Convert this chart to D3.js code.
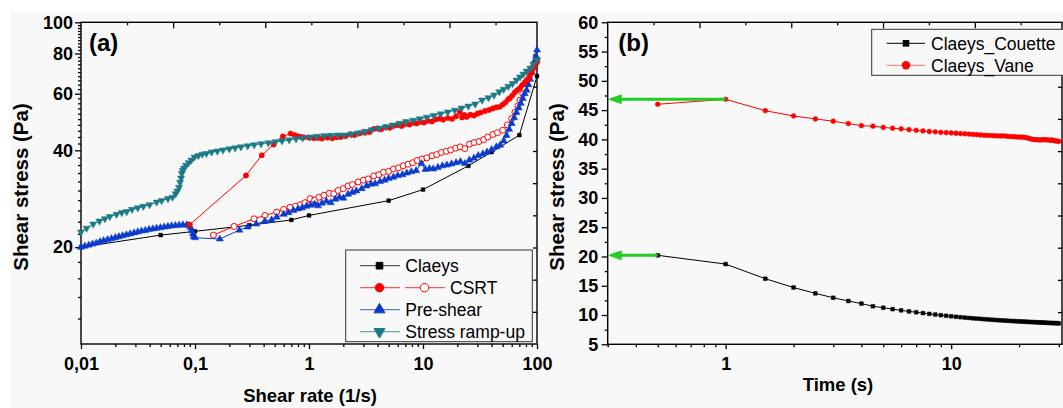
<!DOCTYPE html>
<html><head><meta charset="utf-8">
<script src="https://cdn.jsdelivr.net/npm/d3@7"></script>
<style>html,body{margin:0;padding:0;background:#fff;} svg{display:block;}</style>
</head><body><svg id="c" width="1063" height="408"></svg>
<script>
// ---------------- Panel (a) data ----------------
const claeysX = [0.01, 0.05, 0.1, 0.3, 0.7, 1, 5, 10, 25, 40, 70, 100];
const claeysY = [20, 21.8, 22.4, 23.4, 24.3, 25.1, 27.9, 30.2, 35.8, 39.5, 44.6, 68];

const csrtUpX = [0.09, 0.28, 0.385, 0.49, 0.59, 0.69, 0.75, 0.8, 0.85, 0.9, 1.0, 1.1, 1.2, 1.3, 1.45, 1.6, 1.75, 1.9, 2.1, 2.3, 2.5, 2.8, 3.1, 3.4, 3.7, 4.0, 4.3, 4.7, 5.1, 5.5, 6.0, 6.5, 7.0, 7.6, 8.2, 8.8, 9.4, 10.2, 11, 12, 13, 14, 15, 16.5, 18, 19.5, 21, 22, 23, 24.2, 26, 28, 30, 32, 35, 38, 41, 44, 47, 50, 53, 56, 58, 61, 64, 67, 71, 74, 78, 81, 84, 87, 90, 93, 96, 100];
const csrtUpY = [23.5, 33.4, 38.6, 41.7, 44.2, 45.1, 44.6, 44.2, 44.0, 43.9, 43.8, 43.6, 43.7, 43.5, 43.8, 43.6, 43.9, 44.0, 44.3, 44.9, 44.6, 45.2, 45.4, 45.6, 46.6, 46.8, 46.5, 47.2, 47.0, 47.6, 47.9, 47.6, 48.3, 48.1, 48.7, 48.5, 49.0, 48.8, 49.4, 49.2, 49.9, 50.2, 49.8, 50.4, 50.1, 51.0, 52.6, 50.6, 51.5, 50.8, 51.6, 51.3, 52.0, 52.4, 53.0, 53.4, 54.0, 54.4, 54.6, 55.5, 56.4, 57.6, 58.2, 59.3, 60.6, 61.5, 62.5, 63.8, 65.0, 65.9, 66.5, 68.5, 70.2, 72.0, 73.6, 75.0];

const csrtDownX = [0.145, 0.22, 0.33, 0.41, 0.52, 0.6, 0.68, 0.76, 0.84, 0.92, 1.02, 1.12, 1.22, 1.35, 1.5, 1.65, 1.8, 2.0, 2.2, 2.4, 2.7, 3.0, 3.3, 3.7, 4.1, 4.5, 5.0, 5.5, 6.1, 6.7, 7.4, 8.1, 8.9, 9.8, 10.8, 12, 13.2, 14.5, 16, 17.5, 19.3, 21.2, 23.3, 25.6, 28, 31, 34, 37, 41, 45, 50, 55, 60, 64, 68, 71, 75, 78, 81, 85, 88, 90, 95, 100];
const csrtDownY = [21.8, 23.2, 24.5, 25.1, 25.7, 26.2, 26.6, 26.8, 27.1, 27.5, 28.3, 28.0, 28.6, 29.0, 29.4, 29.3, 30.0, 30.4, 31.0, 31.3, 31.9, 32.3, 32.6, 33.3, 33.6, 34.2, 34.4, 35.0, 35.3, 35.8, 36.2, 36.6, 37.2, 37.6, 37.9, 38.5, 38.8, 39.4, 39.7, 40.1, 40.6, 41.0, 40.5, 41.8, 42.3, 42.6, 43.2, 44.0, 44.8, 45.4, 46.2, 48.0, 50.2, 52.5, 55.0, 57.3, 60.0, 62.0, 64.5, 67.0, 69.5, 72.0, 74.5, 76.5];

const preShearX = [0.01, 0.0108, 0.0117, 0.0126, 0.0136, 0.0147, 0.0158, 0.0171, 0.0185, 0.02, 0.0215, 0.0232, 0.025, 0.027, 0.0292, 0.0315, 0.034, 0.0367, 0.0396, 0.0427, 0.046, 0.0497, 0.0536, 0.0578, 0.0624, 0.0673, 0.0726, 0.0783, 0.0845, 0.088, 0.0915, 0.0935, 0.096, 0.0975, 0.1, 0.165, 0.245, 0.29, 0.345, 0.41, 0.47, 0.52, 0.6, 0.66, 0.73, 0.8, 0.87, 0.95, 1.03, 1.12, 1.2, 1.3, 1.42, 1.55, 1.7, 1.85, 2.0, 2.2, 2.4, 2.6, 2.9, 3.2, 3.5, 3.8, 4.2, 4.6, 5.0, 5.5, 6.0, 6.6, 7.2, 7.9, 8.7, 9.7, 10.5, 11.4, 12.3, 13.5, 14.8, 16.2, 17.8, 19.5, 21.3, 23.3, 25.5, 28, 30.5, 33.5, 36.5, 40, 44, 47.5, 51, 54, 57, 60, 63, 66, 69, 72, 75, 78, 81, 84, 87, 90, 93, 96, 98, 100];
const preShearY = [20.0, 20.15, 20.3, 20.45, 20.6, 20.8, 20.95, 21.1, 21.25, 21.4, 21.55, 21.7, 21.85, 22.0, 22.15, 22.3, 22.45, 22.55, 22.7, 22.8, 22.9, 23.0, 23.1, 23.2, 23.3, 23.35, 23.4, 23.45, 23.45, 23.35, 23.0, 22.5, 22.0, 21.6, 21.4, 21.2, 22.6, 23.1, 23.6, 24.1, 24.3, 24.8, 25.3, 25.6, 26.0, 26.3, 26.5, 26.8, 27.0, 27.2, 26.9, 27.4, 27.8, 27.5, 28.2, 28.6, 28.4, 29.2, 29.6, 29.9, 30.4, 31.0, 31.4, 31.5, 32.0, 32.3, 32.7, 33.0, 33.4, 33.6, 34.0, 34.3, 34.6, 36.4, 34.9, 35.1, 35.0, 35.4, 35.8, 36.0, 36.3, 36.6, 36.9, 36.4, 37.3, 37.8, 38.5, 39.0, 39.5, 40.2, 41.0, 41.5, 42.8, 44.5, 46.5, 48.5, 50.5, 52.5, 54.2, 56.0, 58.0, 60.0, 61.5, 64.0, 66.5, 70.0, 72.7, 76.0, 78.5, 82.0];

const rampX = [0.01, 0.0112, 0.0128, 0.0145, 0.0162, 0.0179, 0.0205, 0.0228, 0.0252, 0.028, 0.0315, 0.0352, 0.04, 0.0461, 0.051, 0.058, 0.0635, 0.0676, 0.07, 0.0724, 0.074, 0.0755, 0.0766, 0.078, 0.08, 0.0834, 0.088, 0.093, 0.099, 0.107, 0.116, 0.126, 0.14, 0.157, 0.176, 0.2, 0.225, 0.253, 0.29, 0.33, 0.38, 0.44, 0.508, 0.58, 0.67, 0.77, 0.88, 1.02, 1.17, 1.35, 1.55, 1.78, 2.04, 2.35, 2.7, 3.1, 3.55, 4.1, 4.7, 5.4, 6.2, 7.1, 8.2, 9.4, 10.8, 12.4, 14.3, 16.5, 19, 21.8, 25, 28.7, 33, 37.5, 42, 46.7, 51, 56, 61, 66.1, 71, 76, 81, 87.3, 93, 100];
const rampY = [22.3, 22.9, 23.6, 24.1, 24.5, 24.9, 25.3, 25.6, 25.8, 26.2, 26.5, 26.8, 27.1, 27.6, 27.9, 28.3, 28.6, 29.3, 29.9, 30.7, 31.8, 32.8, 33.9, 34.6, 35.2, 35.9, 36.6, 37.3, 38.1, 38.5, 38.9, 39.1, 39.5, 39.8, 40.1, 40.4, 40.7, 41.0, 41.3, 41.6, 41.9, 42.2, 42.5, 42.8, 43.1, 43.4, 43.7, 44.0, 44.2, 44.4, 44.5, 44.6, 44.6, 44.9, 45.3, 45.8, 46.3, 46.8, 47.3, 47.9, 48.5, 49.1, 49.6, 50.1, 50.7, 51.3, 51.9, 52.6, 53.3, 54.1, 54.9, 55.7, 57.3, 58.3, 59.4, 60.8, 61.9, 63.2, 64.5, 66.1, 67.6, 69.0, 70.5, 71.9, 74.0, 76.5];

const xTicksA = [0.01, 0.1, 1, 10, 100];
const xTickLabelsA = ["0,01", "0,1", "1", "10", "100"];
const yTicksA = [20, 40, 60, 80, 100];
const yTickLabelsA = ["20", "40", "60", "80", "100"];
const legendA = ["Claeys", "CSRT", "Pre-shear", "Stress ramp-up"];

// ---------------- Panel (b) data ----------------
const timeB = [0.5, 1, 1.5, 2, 2.5, 3, 3.5, 4, 4.5, 5, 5.5, 6, 6.5, 7, 7.5, 8, 8.5, 9, 9.5, 10, 10.5, 11, 11.5, 12, 12.5, 13, 13.5, 14, 14.5, 15, 15.5, 16, 16.5, 17, 17.5, 18, 18.5, 19, 19.5, 20, 20.5, 21, 21.5, 22, 22.5, 23, 23.5, 24, 24.5, 25, 25.5, 26, 26.5, 27, 27.5, 28, 28.5, 29, 29.5, 30];
const couetteY = [20.2, 18.7, 16.2, 14.7, 13.7, 12.95, 12.4, 11.95, 11.5, 11.25, 11.0, 10.8, 10.62, 10.47, 10.33, 10.2, 10.08, 9.97, 9.87, 9.78, 9.70, 9.63, 9.56, 9.50, 9.44, 9.39, 9.34, 9.29, 9.25, 9.21, 9.17, 9.13, 9.10, 9.07, 9.04, 9.01, 8.98, 8.96, 8.93, 8.91, 8.89, 8.87, 8.85, 8.83, 8.81, 8.79, 8.77, 8.76, 8.74, 8.72, 8.71, 8.69, 8.68, 8.66, 8.65, 8.63, 8.62, 8.61, 8.60, 8.58];
const vaneY = [46.0, 46.85, 44.9, 44.0, 43.5, 43.1, 42.7, 42.35, 42.25, 42.05, 41.9, 41.8, 41.65, 41.55, 41.45, 41.35, 41.3, 41.2, 41.15, 41.1, 41.05, 41.0, 40.95, 40.9, 40.85, 40.8, 40.75, 40.7, 40.68, 40.65, 40.62, 40.6, 40.58, 40.6, 40.55, 40.5, 40.48, 40.45, 40.42, 40.4, 40.4, 40.35, 40.3, 40.2, 40.1, 40.0, 39.95, 39.95, 39.9, 39.9, 39.95, 39.95, 39.9, 39.9, 39.85, 39.9, 39.8, 39.75, 39.7, 39.65];
const xTicksB = [1, 10];
const xTickLabelsB = ["1", "10"];
const yTicksB = [5, 10, 15, 20, 25, 30, 35, 40, 45, 50, 55, 60];
const legendB = ["Claeys_Couette", "Claeys_Vane"];

// ---------------- Drawing ----------------
const FONT = "Arial, 'Liberation Sans', sans-serif";
const svg = d3.select("#c");
svg.append("rect").attr("x", 10).attr("y", 12).attr("width", 1053).attr("height", 396).attr("fill", "#f8f8f8");

const C = {black: "#000000", red: "#ff0000", blue: "#0a3ccc", teal: "#1a7a86", green: "#22cc22"};

function zip(xs, ys) { return xs.map((x, i) => ({x: x, y: ys[i]})); }

function styleAxis(g, fs) {
  g.attr("font-family", FONT).attr("font-size", fs).attr("font-weight", "bold");
  g.selectAll("path.domain").remove();
  g.selectAll(".tick line").attr("stroke", "#000").attr("stroke-width", 1.3);
  g.selectAll(".tick text").attr("fill", "#000");
}

function symbolPath(type, size) {
  return d3.symbol().type(type).size(size)();
}

function drawSeries(g, data, x, y, opt) {
  const line = d3.line().x(d => x(d.x)).y(d => y(d.y));
  g.append("path").datum(data).attr("d", line).attr("fill", "none")
    .attr("stroke", opt.color).attr("stroke-width", opt.lw || 1);
  const p = symbolPath(opt.shape, opt.size);
  g.selectAll(null).data(data).enter().append("path")
    .attr("d", p)
    .attr("transform", d => `translate(${x(d.x)},${y(d.y)})` + (opt.rot ? " rotate(180)" : ""))
    .attr("fill", opt.open ? "#fff" : opt.color)
    .attr("stroke", opt.color).attr("stroke-width", opt.open ? 1 : 0.5);
}

// ===== Panel (a) =====
const A = {l: 81, r: 537, t: 22.3, b: 344};
const xA = d3.scaleLog().domain([0.01, 100]).range([A.l, A.r]);
const yA = d3.scaleLog().domain([10, 100]).range([A.b, A.t]);
const gA = svg.append("g");

// minor ticks
const xMinorA = [];
[0.01, 0.1, 1, 10].forEach(d => { for (let k = 2; k <= 9; k++) xMinorA.push(+(k * d).toPrecision(3)); });
gA.append("g").attr("transform", `translate(0,${A.b})`)
  .call(d3.axisBottom(xA).tickValues(xMinorA).tickSize(3).tickFormat(""))
  .call(g => styleAxis(g, 18));
gA.append("g").attr("transform", `translate(0,${A.b})`)
  .call(d3.axisBottom(xA).tickValues(xTicksA).tickSize(5).tickPadding(8).tickFormat((d, i) => xTickLabelsA[i]))
  .call(g => styleAxis(g, 18));

const yMinorA = [];
for (let v = 12; v < 100; v += 2) if (v % 20 !== 0) yMinorA.push(v);
gA.append("g").attr("transform", `translate(${A.l},0)`)
  .call(d3.axisLeft(yA).tickValues(yMinorA).tickSize(3).tickFormat(""))
  .call(g => styleAxis(g, 18));
gA.append("g").attr("transform", `translate(${A.l},0)`)
  .call(d3.axisLeft(yA).tickValues(yTicksA).tickSize(6).tickPadding(2).tickFormat((d, i) => yTickLabelsA[i]))
  .call(g => styleAxis(g, 18));

// top and right auxiliary (independent linear) ticks
const topA = d3.scaleLinear().domain([0, 99]).range([A.l, A.r]);
gA.append("g").attr("transform", `translate(0,${A.t})`)
  .call(d3.axisTop(topA).tickValues([10, 30, 50, 70, 90]).tickSize(-3).tickFormat(""))
  .call(g => styleAxis(g, 18));
gA.append("g").attr("transform", `translate(0,${A.t})`)
  .call(d3.axisTop(topA).tickValues([20, 40, 60, 80]).tickSize(-6).tickFormat(""))
  .call(g => styleAxis(g, 18));
const rightA = d3.scaleLinear().domain([0, 10]).range([A.b, A.t]);
gA.append("g").attr("transform", `translate(${A.r},0)`)
  .call(d3.axisRight(rightA).tickValues([1, 2, 3, 4, 5, 6, 7, 8, 9]).tickSize(-4).tickFormat(""))
  .call(g => styleAxis(g, 18));

gA.append("rect").attr("x", A.l).attr("y", A.t).attr("width", A.r - A.l).attr("height", A.b - A.t)
  .attr("fill", "none").attr("stroke", "#000").attr("stroke-width", 1.4);

const sA = gA.append("g");
drawSeries(sA, zip(claeysX, claeysY), xA, yA, {color: C.black, shape: d3.symbolSquare, size: 14});
drawSeries(sA, zip(csrtDownX, csrtDownY), xA, yA, {color: C.red, shape: d3.symbolCircle, size: 28, open: true});
drawSeries(sA, zip(preShearX, preShearY), xA, yA, {color: C.blue, shape: d3.symbolTriangle, size: 22});
drawSeries(sA, zip(csrtUpX, csrtUpY), xA, yA, {color: C.red, shape: d3.symbolCircle, size: 22});
drawSeries(sA, zip(rampX, rampY), xA, yA, {color: C.teal, shape: d3.symbolTriangle, size: 22, rot: true});

gA.append("text").attr("x", 89).attr("y", 51).attr("font-family", FONT).attr("font-size", 24)
  .attr("font-weight", "bold").text("(a)");
gA.append("text").attr("x", (A.l + A.r) / 2 + 1).attr("y", 402).attr("text-anchor", "middle")
  .attr("font-family", FONT).attr("font-size", 18.5).attr("font-weight", "bold").text("Shear rate (1/s)");
gA.append("text").attr("transform", "translate(27.5,187) rotate(-90)").attr("text-anchor", "middle")
  .attr("font-family", FONT).attr("font-size", 20.5).attr("font-weight", "bold").text("Shear stress (Pa)");

// legend (a)
const LA = gA.append("g");
LA.append("rect").attr("x", 345.7).attr("y", 250).attr("width", 186.6).attr("height", 91.7)
  .attr("fill", "#f8f8f8").attr("stroke", "#333").attr("stroke-width", 1);
const legRowsA = [
  {label: legendA[0], items: [{color: C.black, shape: d3.symbolSquare, size: 44}], tx: 405.3},
  {label: legendA[1], items: [{color: C.red, shape: d3.symbolCircle, size: 56}, {color: C.red, shape: d3.symbolCircle, size: 56, open: true}], tx: 450},
  {label: legendA[2], items: [{color: C.blue, shape: d3.symbolTriangle, size: 52}], tx: 405.3},
  {label: legendA[3], items: [{color: C.teal, shape: d3.symbolTriangle, size: 52, rot: true}], tx: 405.3}
];
legRowsA.forEach((r, i) => {
  const cy = 265.7 + i * 22;
  r.items.forEach((it, j) => {
    const x0 = 360 + j * 45;
    LA.append("line").attr("x1", x0).attr("x2", x0 + 40).attr("y1", cy).attr("y2", cy)
      .attr("stroke", it.color).attr("stroke-width", 1).attr("opacity", 0.8);
    LA.append("path").attr("d", symbolPath(it.shape, it.size))
      .attr("transform", `translate(${x0 + 19.5},${cy})` + (it.rot ? " rotate(180)" : ""))
      .attr("fill", it.open ? "#fff" : it.color).attr("stroke", it.color).attr("stroke-width", 1);
  });
  LA.append("text").attr("x", r.tx).attr("y", cy + 6.2).attr("font-family", FONT).attr("font-size", 17.5)
    .attr("fill", "#000").text(r.label);
});

// ===== Panel (b) =====
const B = {l: 607.7, r: 1062, t: 22.3, b: 344.3};
const xB = d3.scaleLog().domain([0.3, 31]).range([B.l, B.r]);
const yB = d3.scaleLinear().domain([5, 60]).range([B.b, B.t]);
const gB = svg.append("g");

const xMinorB = [0.3, 0.4, 0.5, 0.6, 0.7, 0.8, 0.9, 2, 3, 4, 5, 6, 7, 8, 9, 20, 30];
gB.append("g").attr("transform", `translate(0,${B.b})`)
  .call(d3.axisBottom(xB).tickValues(xMinorB).tickSize(3).tickFormat(""))
  .call(g => styleAxis(g, 18));
gB.append("g").attr("transform", `translate(0,${B.b})`)
  .call(d3.axisBottom(xB).tickValues(xTicksB).tickSize(5).tickPadding(8).tickFormat((d, i) => xTickLabelsB[i]))
  .call(g => styleAxis(g, 18));
const yMinorB = yTicksB.slice(0, -1).map(v => v + 2.5);
gB.append("g").attr("transform", `translate(${B.l},0)`)
  .call(d3.axisLeft(yB).tickValues(yMinorB).tickSize(3).tickFormat(""))
  .call(g => styleAxis(g, 18));
gB.append("g").attr("transform", `translate(${B.l},0)`)
  .call(d3.axisLeft(yB).tickValues(yTicksB).tickSize(6).tickPadding(3.5).tickFormat(d3.format("d")))
  .call(g => styleAxis(g, 18));
const topB = d3.scaleLinear().domain([0, 99]).range([B.l, B.r]);
gB.append("g").attr("transform", `translate(0,${B.t})`)
  .call(d3.axisTop(topB).tickValues([10, 30, 50, 70, 90]).tickSize(-3).tickFormat(""))
  .call(g => styleAxis(g, 18));
gB.append("g").attr("transform", `translate(0,${B.t})`)
  .call(d3.axisTop(topB).tickValues([20, 40, 60, 80]).tickSize(-6).tickFormat(""))
  .call(g => styleAxis(g, 18));
const rightB = d3.scaleLinear().domain([0, 10]).range([B.b, B.t]);
gB.append("g").attr("transform", `translate(${B.r},0)`)
  .call(d3.axisRight(rightB).tickValues([1, 2, 3, 4, 5, 6, 7, 8, 9]).tickSize(-4).tickFormat(""))
  .call(g => styleAxis(g, 18));
gB.append("rect").attr("x", B.l).attr("y", B.t).attr("width", B.r - B.l).attr("height", B.b - B.t)
  .attr("fill", "none").attr("stroke", "#000").attr("stroke-width", 1.4);

const sB = gB.append("g");
drawSeries(sB, zip(timeB, couetteY), xB, yB, {color: C.black, shape: d3.symbolSquare, size: 14});
drawSeries(sB, zip(timeB, vaneY), xB, yB, {color: C.red, shape: d3.symbolCircle, size: 18});

// green arrows pointing at the y axis
const arrows = [{t: timeB[1], v: vaneY[1]}, {t: timeB[0], v: couetteY[0]}];
arrows.forEach(a => {
  const x1 = xB(a.t), yy = yB(a.v), x0 = B.l;
  gB.append("line").attr("x1", x1).attr("x2", x0 + 12).attr("y1", yy).attr("y2", yy)
    .attr("stroke", C.green).attr("stroke-width", 3);
  gB.append("path").attr("d", `M${x0},${yy} L${x0 + 14},${yy - 5} L${x0 + 14},${yy + 5} Z`)
    .attr("fill", C.green);
});

gB.append("text").attr("x", 618.3).attr("y", 51).attr("font-family", FONT).attr("font-size", 24)
  .attr("font-weight", "bold").text("(b)");
gB.append("text").attr("x", 838).attr("y", 391).attr("text-anchor", "middle")
  .attr("font-family", FONT).attr("font-size", 18.5).attr("font-weight", "bold").text("Time (s)");
gB.append("text").attr("transform", "translate(564,187) rotate(-90)").attr("text-anchor", "middle")
  .attr("font-family", FONT).attr("font-size", 20.5).attr("font-weight", "bold").text("Shear stress (Pa)");

// legend (b)
const LB = gB.append("g");
LB.append("rect").attr("x", 871.7).attr("y", 29.3).attr("width", 200).attr("height", 46)
  .attr("fill", "#f8f8f8").attr("stroke", "#333").attr("stroke-width", 1);
const legRowsB = [
  {label: legendB[0], color: C.black, line: "#000", shape: d3.symbolSquare, size: 44},
  {label: legendB[1], color: C.red, line: "#ff7070", shape: d3.symbolCircle, size: 56}
];
legRowsB.forEach((r, i) => {
  const cy = 43.3 + i * 22;
  LB.append("line").attr("x1", 886.7).attr("x2", 925).attr("y1", cy).attr("y2", cy)
    .attr("stroke", r.line).attr("stroke-width", 1);
  LB.append("path").attr("d", symbolPath(r.shape, r.size)).attr("transform", `translate(906,${cy})`)
    .attr("fill", r.color);
  LB.append("text").attr("x", 931).attr("y", cy + 6.2).attr("font-family", FONT).attr("font-size", 17.5)
    .attr("fill", "#000").text(r.label);
});
</script></body></html>
